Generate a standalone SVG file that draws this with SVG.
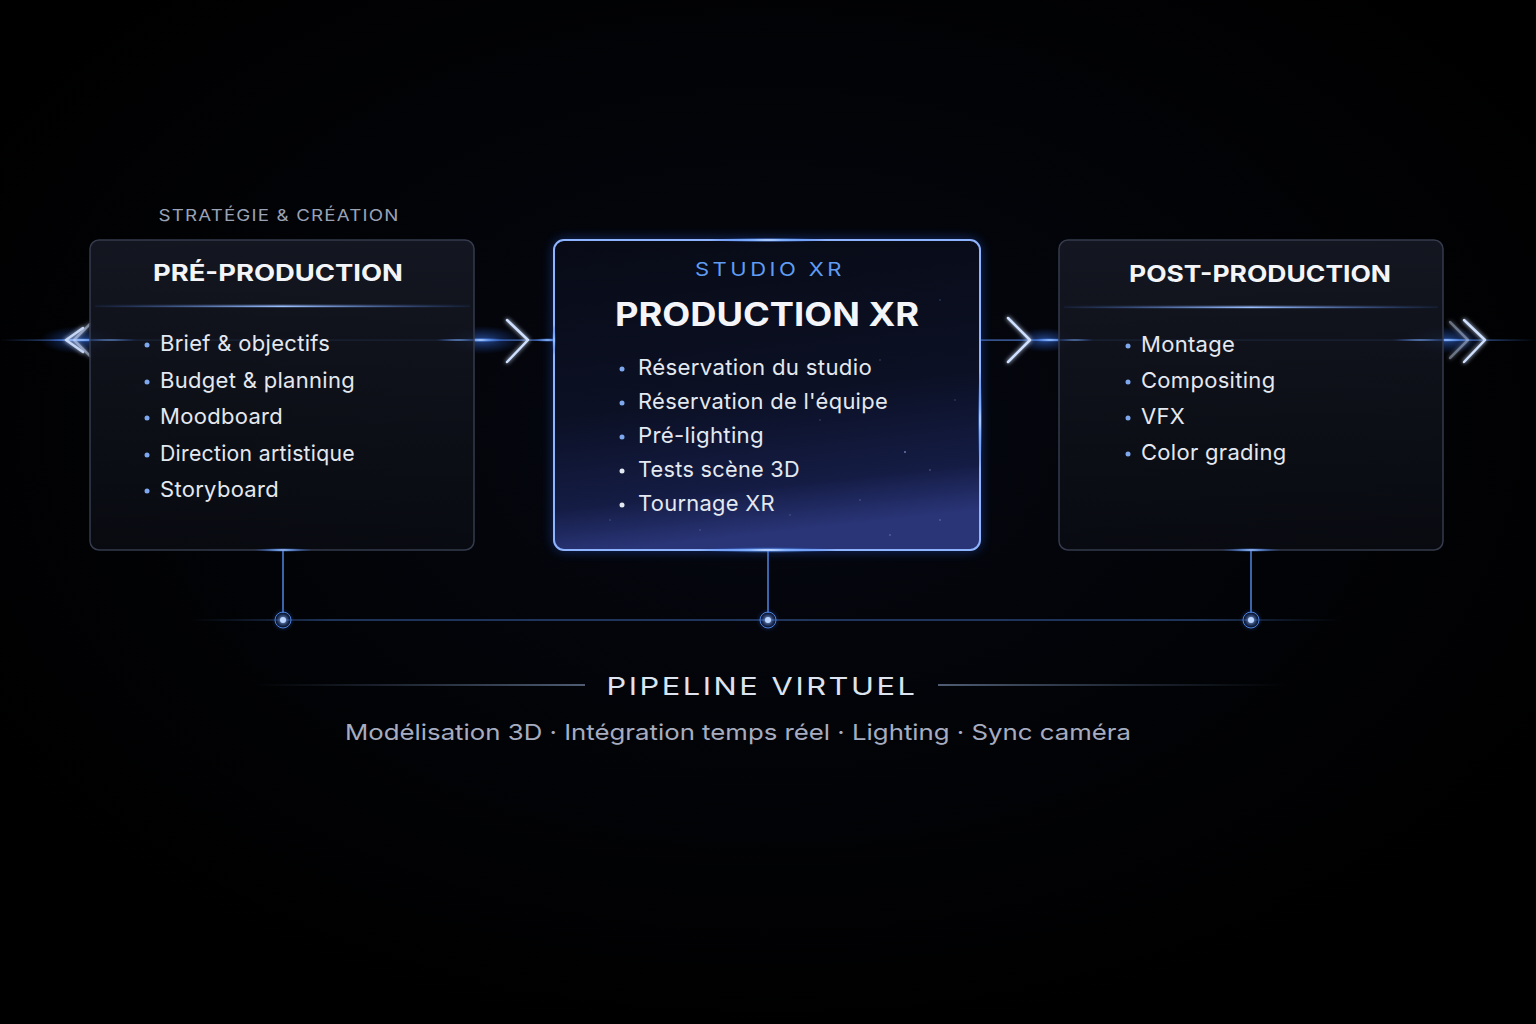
<svg xmlns="http://www.w3.org/2000/svg" width="1536" height="1024" viewBox="0 0 1536 1024">
<defs>
<style>
.f{font-family:Inter,"Noto Sans","Liberation Sans",sans-serif}
.sub{font-size:16px;letter-spacing:1px;fill:#9aa2b6}
.hdr{font-size:23px;font-weight:700;fill:#f3f5f9}
.item{font-size:22px;fill:#e4e8f0;letter-spacing:0.3px}
.dot{fill:#7ea8ee}
.box{fill:url(#boxFill);stroke:#353b4c;stroke-width:1.5}
.vline{stroke:#4f86e0;stroke-width:1.5}
.chev{fill:none;stroke:#cfe0ff;stroke-width:2.5;stroke-linecap:round;stroke-linejoin:round}
</style>
<radialGradient id="bg" cx="0.5" cy="0.42" r="0.6">
<stop offset="0" stop-color="#060812"/>
<stop offset="0.6" stop-color="#020306"/>
<stop offset="1" stop-color="#000000"/>
</radialGradient>
<linearGradient id="boxFill" x1="0" y1="0" x2="0" y2="1">
<stop offset="0" stop-color="#161924" stop-opacity="0.88"/>
<stop offset="1" stop-color="#0a0c13" stop-opacity="0.82"/>
</linearGradient>
<linearGradient id="midFill" x1="0" y1="0" x2="0.15" y2="1">
<stop offset="0" stop-color="#080b16"/>
<stop offset="0.55" stop-color="#0b1024"/>
<stop offset="0.85" stop-color="#141c44"/>
<stop offset="1" stop-color="#2a3578"/>
</linearGradient>
<linearGradient id="hline" x1="0" y1="0" x2="1" y2="0">
<stop offset="0" stop-color="#3b6fd8" stop-opacity="0"/>
<stop offset="0.04" stop-color="#5b8ff0" stop-opacity="0.8"/>
<stop offset="0.96" stop-color="#5b8ff0" stop-opacity="0.8"/>
<stop offset="1" stop-color="#3b6fd8" stop-opacity="0"/>
</linearGradient>
<linearGradient id="botline" x1="0" y1="0" x2="1" y2="0">
<stop offset="0" stop-color="#4a7fd8" stop-opacity="0"/>
<stop offset="0.12" stop-color="#4a7fd8" stop-opacity="0.65"/>
<stop offset="0.88" stop-color="#4a7fd8" stop-opacity="0.65"/>
<stop offset="1" stop-color="#4a7fd8" stop-opacity="0"/>
</linearGradient>
<linearGradient id="divider" x1="0" y1="0" x2="1" y2="0">
<stop offset="0" stop-color="#3a64c0" stop-opacity="0.1"/>
<stop offset="0.5" stop-color="#9cc0ff" stop-opacity="1"/>
<stop offset="1" stop-color="#3a64c0" stop-opacity="0.1"/>
</linearGradient>
<linearGradient id="pipeL" x1="0" y1="0" x2="1" y2="0">
<stop offset="0" stop-color="#6d8ab8" stop-opacity="0"/>
<stop offset="1" stop-color="#8fa6cc" stop-opacity="0.9"/>
</linearGradient>
<linearGradient id="pipeR" x1="0" y1="0" x2="1" y2="0">
<stop offset="0" stop-color="#8fa6cc" stop-opacity="0.9"/>
<stop offset="1" stop-color="#6d8ab8" stop-opacity="0"/>
</linearGradient>
<radialGradient id="flare">
<stop offset="0" stop-color="#ffffff" stop-opacity="1"/>
<stop offset="0.3" stop-color="#7fb0ff" stop-opacity="0.8"/>
<stop offset="1" stop-color="#1f5bd8" stop-opacity="0"/>
</radialGradient>
<radialGradient id="halo">
<stop offset="0" stop-color="#3f7cf0" stop-opacity="0.55"/>
<stop offset="1" stop-color="#1f4fc0" stop-opacity="0"/>
</radialGradient>
<filter id="glow" x="-20%" y="-20%" width="140%" height="140%">
<feGaussianBlur stdDeviation="6" result="b"/>
<feMerge><feMergeNode in="b"/><feMergeNode in="b"/><feMergeNode in="SourceGraphic"/></feMerge>
</filter>
<filter id="sglow" x="-50%" y="-50%" width="200%" height="200%">
<feGaussianBlur stdDeviation="2" result="b"/>
<feMerge><feMergeNode in="b"/><feMergeNode in="SourceGraphic"/></feMerge>
</filter>
</defs>

<rect width="1536" height="1024" fill="url(#bg)"/>

<!-- connectors (drawn beneath the translucent cards) -->
<g id="connectors">
<rect x="0" y="339.5" width="1536" height="1.2" fill="url(#hline)"/>
<ellipse cx="80" cy="340" rx="40" ry="14" fill="url(#halo)"/>
<ellipse cx="82" cy="340" rx="34" ry="2" fill="url(#flare)"/>
<ellipse cx="482" cy="340" rx="40" ry="14" fill="url(#halo)"/>
<ellipse cx="480" cy="340" rx="26" ry="2.5" fill="url(#flare)"/>
<ellipse cx="548" cy="340" rx="16" ry="2" fill="url(#flare)"/>
<ellipse cx="1045" cy="340" rx="30" ry="12" fill="url(#halo)"/>
<ellipse cx="1050" cy="340" rx="22" ry="2" fill="url(#flare)"/>
<ellipse cx="1445" cy="340" rx="40" ry="14" fill="url(#halo)"/>
<ellipse cx="1446" cy="340" rx="28" ry="2" fill="url(#flare)"/>
<g filter="url(#sglow)">
<polyline class="chev" points="83,328 66,340 83,352" stroke-opacity="0.9"/>
<polyline class="chev" points="90,324 74,340 90,356" stroke-opacity="0.5"/>
<polyline class="chev" points="507,320 528,340 507,362"/>
<polyline class="chev" points="1008,318 1030,340 1008,362"/>
<polyline class="chev" points="1450,322 1468,340 1450,358" stroke-opacity="0.4"/>
<polyline class="chev" points="1464,320 1485,340 1464,362"/>
</g>
<line x1="283" y1="550" x2="283" y2="613" class="vline"/>
<line x1="768" y1="550" x2="768" y2="613" class="vline"/>
<line x1="1251" y1="550" x2="1251" y2="613" class="vline"/>
<rect x="190" y="619.4" width="1150" height="1.2" fill="url(#botline)"/>
<circle cx="283" cy="620" r="12" fill="url(#halo)"/>
<circle cx="283" cy="620" r="8" fill="none" stroke="#4d7fd6" stroke-width="1"/>
<circle cx="283" cy="620" r="3" fill="#bcd6ff" filter="url(#sglow)"/>
<circle cx="768" cy="620" r="12" fill="url(#halo)"/>
<circle cx="768" cy="620" r="8" fill="none" stroke="#4d7fd6" stroke-width="1"/>
<circle cx="768" cy="620" r="3" fill="#bcd6ff" filter="url(#sglow)"/>
<circle cx="1251" cy="620" r="12" fill="url(#halo)"/>
<circle cx="1251" cy="620" r="8" fill="none" stroke="#4d7fd6" stroke-width="1"/>
<circle cx="1251" cy="620" r="3" fill="#bcd6ff" filter="url(#sglow)"/>
</g>

<!-- Pre-production -->
<g id="node-pre">
<text x="279" y="221" text-anchor="middle" class="f sub" textLength="241" lengthAdjust="spacingAndGlyphs">STRATÉGIE &amp; CRÉATION</text>
<rect x="90" y="240" width="384" height="310" rx="9" class="box"/>
<ellipse cx="110" cy="340" rx="30" ry="1.5" fill="url(#flare)" opacity="0.6"/>
<ellipse cx="458" cy="340" rx="24" ry="1.5" fill="url(#flare)" opacity="0.7"/>
<text x="278" y="281" text-anchor="middle" class="f hdr" textLength="250" lengthAdjust="spacingAndGlyphs">PRÉ-PRODUCTION</text>
<rect x="95" y="305.5" width="375" height="1.5" fill="url(#divider)" filter="url(#sglow)"/>
<ellipse cx="283" cy="550" rx="30" ry="2" fill="url(#flare)"/>
<circle cx="147" cy="345" r="2.5" class="dot"/>
<circle cx="147" cy="382" r="2.5" class="dot"/>
<circle cx="147" cy="418" r="2.5" class="dot"/>
<circle cx="147" cy="455" r="2.5" class="dot"/>
<circle cx="147" cy="491" r="2.5" class="dot"/>
<text x="160" y="351" class="f item">Brief &amp; objectifs</text>
<text x="160" y="388" class="f item">Budget &amp; planning</text>
<text x="160" y="424" class="f item">Moodboard</text>
<text x="160" y="461" class="f item" textLength="195" lengthAdjust="spacingAndGlyphs">Direction artistique</text>
<text x="160" y="497" class="f item">Storyboard</text>
</g>

<!-- Production XR -->
<g id="node-prod">
<rect x="554" y="240" width="426" height="310" rx="10" fill="#2a5fe0" opacity="0.3" filter="url(#glow)"/>
<rect x="554" y="240" width="426" height="310" rx="10" fill="url(#midFill)" stroke="#8fb4ff" stroke-width="2"/>
<g fill="#9fb8ff">
<circle cx="905" cy="452" r="1" opacity="0.6"/><circle cx="930" cy="470" r="0.8" opacity="0.5"/>
<circle cx="860" cy="500" r="0.8" opacity="0.4"/><circle cx="940" cy="520" r="0.8" opacity="0.5"/>
<circle cx="700" cy="530" r="0.7" opacity="0.4"/><circle cx="610" cy="520" r="0.7" opacity="0.4"/>
<circle cx="820" cy="420" r="0.7" opacity="0.4"/><circle cx="955" cy="400" r="0.7" opacity="0.4"/>
<circle cx="890" cy="535" r="0.8" opacity="0.5"/><circle cx="790" cy="515" r="0.7" opacity="0.4"/>
<circle cx="940" cy="300" r="0.7" opacity="0.4"/><circle cx="880" cy="360" r="0.7" opacity="0.4"/>
</g>
<ellipse cx="768" cy="240" rx="60" ry="2.5" fill="url(#flare)"/>
<ellipse cx="768" cy="550" rx="70" ry="3" fill="url(#flare)"/>
<ellipse cx="980" cy="420" rx="2.5" ry="50" fill="url(#flare)"/>
<ellipse cx="554" cy="340" rx="2" ry="16" fill="url(#flare)"/>
<text x="770" y="276" text-anchor="middle" class="f" font-size="19" fill="#5f9cf2" letter-spacing="3" textLength="150" lengthAdjust="spacingAndGlyphs">STUDIO XR</text>
<text x="767" y="326" text-anchor="middle" class="f" font-size="32" font-weight="700" fill="#f3f5f9" textLength="304" lengthAdjust="spacingAndGlyphs">PRODUCTION XR</text>
<circle cx="622" cy="369" r="2.5" class="dot"/>
<circle cx="622" cy="403" r="2.5" class="dot"/>
<circle cx="622" cy="437" r="2.5" class="dot"/>
<circle cx="622" cy="471" r="2.5" fill="#e4e8f0"/>
<circle cx="622" cy="505" r="2.5" fill="#e4e8f0"/>
<text x="638" y="375" class="f item" textLength="234" lengthAdjust="spacingAndGlyphs">Réservation du studio</text>
<text x="638" y="409" class="f item" textLength="250" lengthAdjust="spacingAndGlyphs">Réservation de l'équipe</text>
<text x="638" y="443" class="f item" textLength="126" lengthAdjust="spacingAndGlyphs">Pré-lighting</text>
<text x="638" y="477" class="f item" textLength="162" lengthAdjust="spacingAndGlyphs">Tests scène 3D</text>
<text x="638" y="511" class="f item" textLength="137" lengthAdjust="spacingAndGlyphs">Tournage XR</text>
</g>

<!-- Post-production -->
<g id="node-post">
<rect x="1059" y="240" width="384" height="310" rx="9" class="box"/>
<ellipse cx="1075" cy="340" rx="20" ry="1.5" fill="url(#flare)" opacity="0.6"/>
<ellipse cx="1420" cy="340" rx="30" ry="1.5" fill="url(#flare)" opacity="0.7"/>
<text x="1260" y="282" text-anchor="middle" class="f hdr" textLength="262" lengthAdjust="spacingAndGlyphs">POST-PRODUCTION</text>
<rect x="1064" y="306.5" width="374" height="1.5" fill="url(#divider)" filter="url(#sglow)"/>
<ellipse cx="1251" cy="550" rx="30" ry="2" fill="url(#flare)"/>
<circle cx="1128" cy="346" r="2.5" class="dot"/>
<circle cx="1128" cy="382" r="2.5" class="dot"/>
<circle cx="1128" cy="418" r="2.5" class="dot"/>
<circle cx="1128" cy="454" r="2.5" class="dot"/>
<text x="1141" y="352" class="f item">Montage</text>
<text x="1141" y="388" class="f item">Compositing</text>
<text x="1141" y="424" class="f item">VFX</text>
<text x="1141" y="460" class="f item">Color grading</text>
</g>

<!-- Pipeline virtuel -->
<g id="pipeline">
<rect x="255" y="684.4" width="330" height="1.2" fill="url(#pipeL)"/>
<rect x="938" y="684.4" width="347" height="1.2" fill="url(#pipeR)"/>
<text x="762" y="695" text-anchor="middle" class="f" font-size="24" fill="#dde4f0" letter-spacing="2" textLength="311" lengthAdjust="spacingAndGlyphs">PIPELINE VIRTUEL</text>
<text x="738" y="740" text-anchor="middle" class="f" font-size="22" fill="#a6adc0" textLength="786" lengthAdjust="spacingAndGlyphs">Modélisation 3D · Intégration temps réel · Lighting · Sync caméra</text>
</g>
</svg>
